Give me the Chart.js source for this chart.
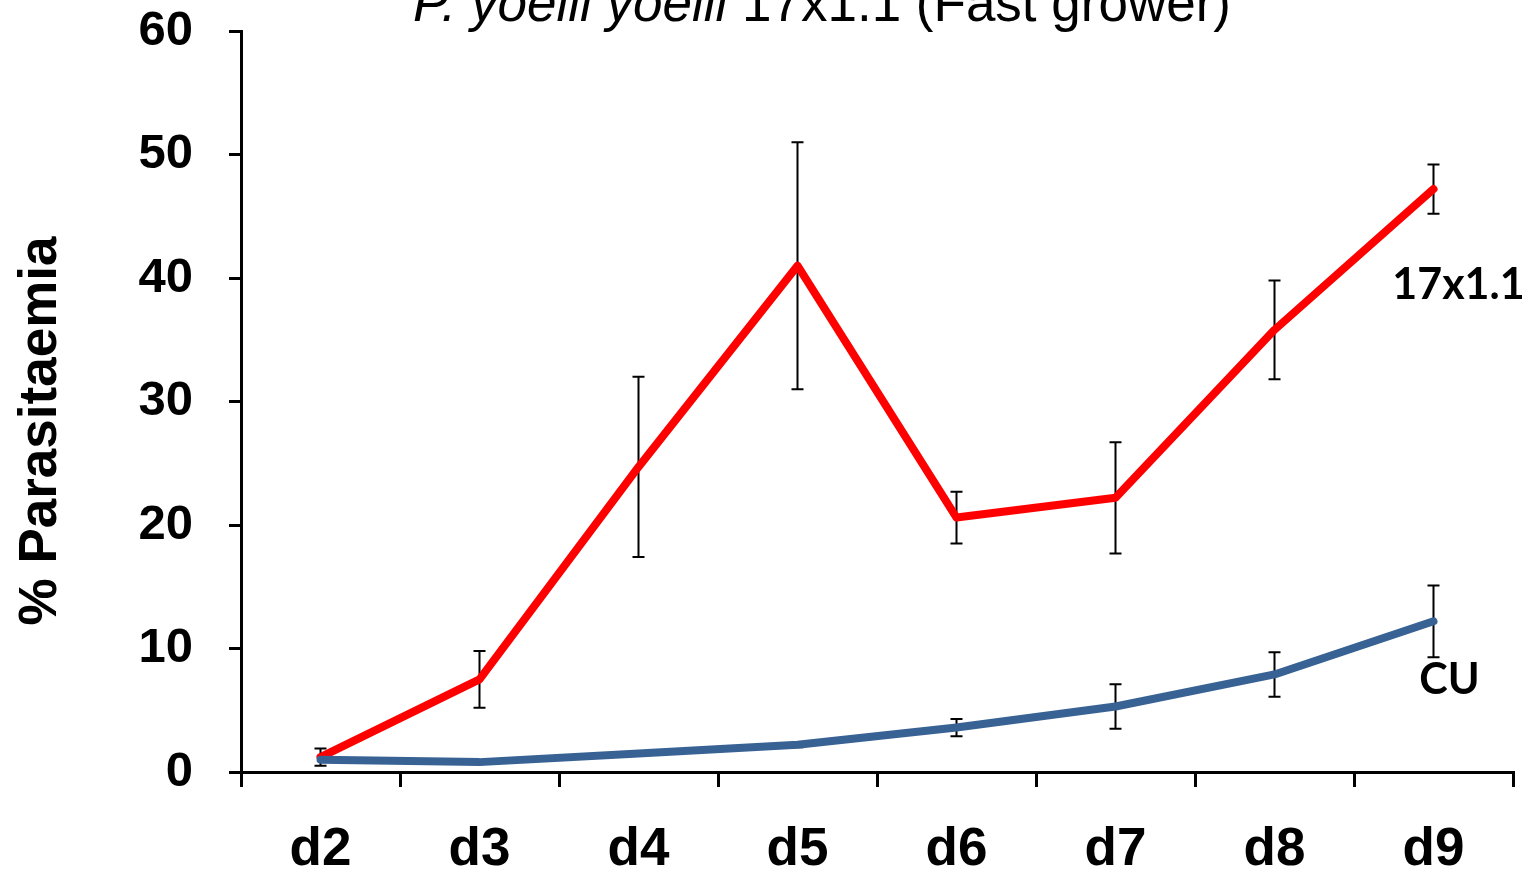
<!DOCTYPE html>
<html>
<head>
<meta charset="utf-8">
<script src="https://cdn.jsdelivr.net/npm/chart.js@4/dist/chart.umd.min.js"></script>
<style>
  html, body { margin: 0; padding: 0; background: #fff; }
  #wrap { width: 1534px; height: 873px; position: relative; }
</style>
</head>
<body>
<div id="wrap"><canvas id="c" width="1534" height="873"></canvas></div>
<script>
const categories = ['d2', 'd3', 'd4', 'd5', 'd6', 'd7', 'd8', 'd9'];
const fastValues = [1.2, 7.5, 24.7, 41.0, 20.6, 22.2, 35.8, 47.2];
const fastErrors = [0.7, 2.3, 7.3, 10.0, 2.1, 4.5, 4.0, 2.0];
const cuValues   = [1.0, 0.8, 1.5, 2.2, 3.6, 5.3, 7.9, 12.2];
const cuErrors   = [0, 0, 0, 0.2, 0.7, 1.8, 1.8, 2.9];
const yTicks = [0, 10, 20, 30, 40, 50, 60];
const titleItalic = 'P. yoelii yoelii ';
const titleNormal = '17x1.1 (Fast grower)';
const yTitle = '% Parasitaemia';
const seriesLabels = ['17x1.1', 'CU'];

const errorBarPlugin = {
  id: 'errorBars',
  beforeDatasetsDraw(chart) {
    const ctx = chart.ctx;
    const x = chart.scales.x, y = chart.scales.y;
    ctx.save();
    ctx.strokeStyle = '#000';
    ctx.lineWidth = 2;
    chart.data.datasets.forEach(ds => {
      ds.values.forEach((v, i) => {
        const e = ds.errors[i];
        if (!e) return;
        const px = x.getPixelForValue(i);
        const top = y.getPixelForValue(v + e);
        const bot = y.getPixelForValue(v - e);
        ctx.beginPath();
        ctx.moveTo(px, top); ctx.lineTo(px, bot);
        ctx.moveTo(px - 6, top); ctx.lineTo(px + 6, top);
        ctx.moveTo(px - 6, bot); ctx.lineTo(px + 6, bot);
        ctx.stroke();
      });
    });
    ctx.restore();
  }
};

const textPlugin = {
  id: 'texts',
  afterDraw(chart) {
    const ctx = chart.ctx;
    const x = chart.scales.x, y = chart.scales.y;
    ctx.save();
    ctx.fillStyle = '#000';
    // title
    ctx.textBaseline = 'alphabetic';
    ctx.textAlign = 'left';
    const fI = 'italic 53px "Liberation Sans", Arial, sans-serif';
    const fN = '53px "Liberation Sans", Arial, sans-serif';
    ctx.font = fI; const wI = ctx.measureText(titleItalic).width;
    ctx.font = fN; const wN = ctx.measureText(titleNormal).width;
    const startX = 822 - (wI + wN) / 2;
    ctx.font = fI; ctx.fillText(titleItalic, startX, 21);
    ctx.font = fN; ctx.fillText(titleNormal, startX + wI, 21);
    // y axis title
    ctx.save();
    ctx.translate(41, 431);
    ctx.rotate(-Math.PI / 2);
    ctx.textAlign = 'center';
    ctx.textBaseline = 'middle';
    ctx.font = 'bold 53px "Liberation Sans", Arial, sans-serif';
    ctx.fillText(yTitle, 0, 0);
    ctx.restore();
    // series labels
    ctx.textAlign = 'center';
    ctx.textBaseline = 'middle';
    ctx.font = 'bold 43px Lato, "Open Sans", sans-serif';
    const last = categories.length - 1;
    ctx.fillText(seriesLabels[0], x.getPixelForValue(last) + 25, y.getPixelForValue(39.4));
    ctx.fillText(seriesLabels[1], x.getPixelForValue(last) + 16, y.getPixelForValue(7.4));
    ctx.restore();
  }
};

new Chart(document.getElementById('c'), {
  type: 'line',
  data: {
    labels: categories,
    datasets: [
      {
        label: seriesLabels[0],
        data: fastValues,
        values: fastValues,
        errors: fastErrors,
        borderColor: '#FF0000',
        borderWidth: 8,
        pointRadius: 0,
        borderCapStyle: 'round',
        borderJoinStyle: 'round',
        tension: 0,
        order: 1
      },
      {
        label: seriesLabels[1],
        data: cuValues,
        values: cuValues,
        errors: cuErrors,
        borderColor: '#386294',
        borderWidth: 8,
        pointRadius: 0,
        borderCapStyle: 'round',
        borderJoinStyle: 'round',
        tension: 0,
        order: 0
      }
    ]
  },
  options: {
    responsive: false,
    animation: false,
    events: [],
    layout: { padding: { top: 31, right: 21, left: 0, bottom: 0 } },
    plugins: { legend: { display: false }, title: { display: false }, tooltip: { enabled: false } },
    scales: {
      x: {
        offset: true,
        grid: { offset: true, drawOnChartArea: false, drawTicks: true, tickLength: 15, color: '#000', lineWidth: 3 },
        border: { color: '#000', width: 3 },
        ticks: { color: '#000', font: { family: '"Liberation Sans", Arial, sans-serif', size: 53, weight: 'bold' }, padding: 32, maxRotation: 0 },
        afterFit(scale) { scale.height = 101; scale.paddingLeft = 0; scale.paddingRight = 0; }
      },
      y: {
        min: 0, max: 60,
        afterBuildTicks(scale) { scale.ticks = yTicks.map(v => ({ value: v })); },
        grid: { drawOnChartArea: false, drawTicks: true, tickLength: 12, color: '#000', lineWidth: 3 },
        border: { color: '#000', width: 3 },
        ticks: { color: '#000', font: { family: '"Liberation Sans", Arial, sans-serif', size: 49, weight: 'bold' }, padding: 36 },
        afterFit(scale) { scale.width = 241; scale.paddingTop = 0; scale.paddingBottom = 0; }
      }
    }
  },
  plugins: [errorBarPlugin, textPlugin]
});
</script>
</body>
</html>
